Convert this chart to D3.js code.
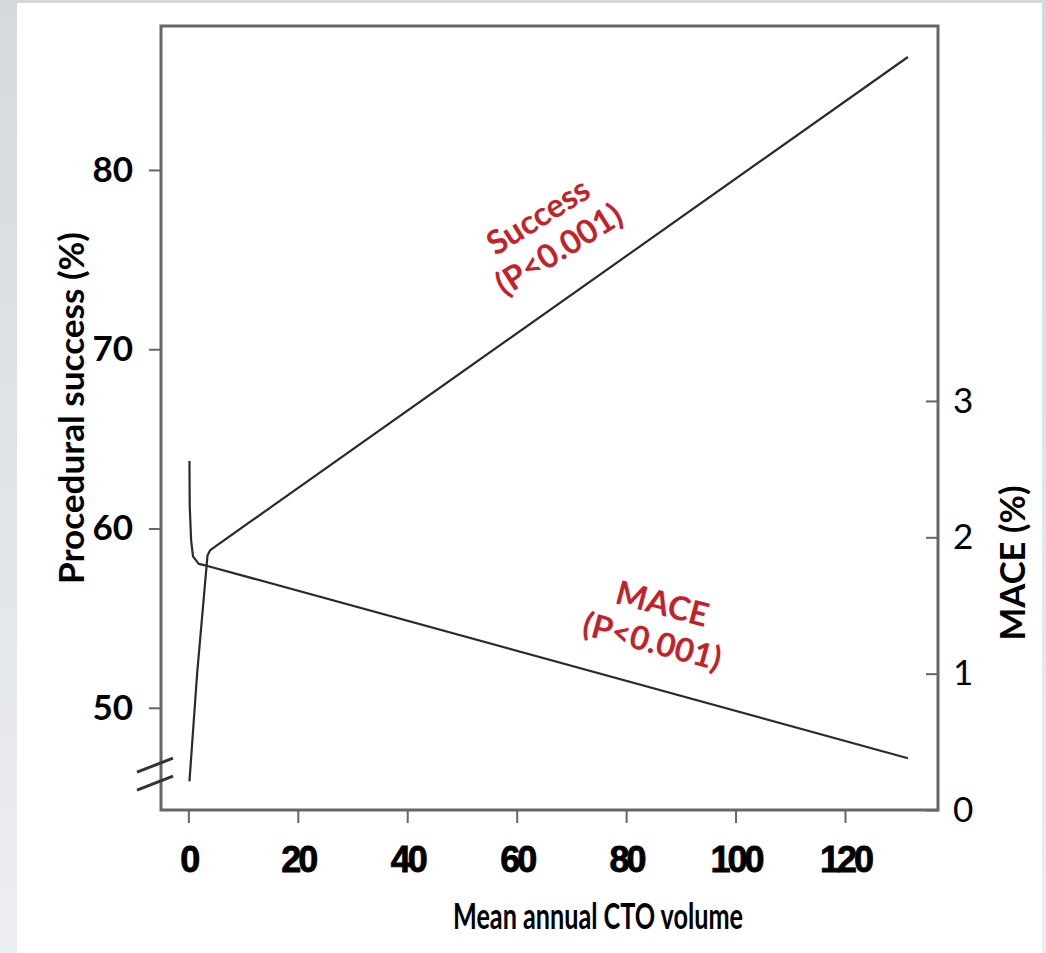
<!DOCTYPE html>
<html>
<head>
<meta charset="utf-8">
<script src="https://cdn.jsdelivr.net/npm/d3@7"></script>
<style>
  body { margin: 0; overflow: hidden; }
  svg { display: block; }
</style>
</head>
<body>
<div id="chart"></div>
<script>
// x axis
const xTicks = [0, 20, 40, 60, 80, 100, 120];
// left axis: procedural success (%)
const leftTicks = [50, 60, 70, 80];
// right axis: MACE (%)
const rightTicks = [0, 1, 2, 3];

// success curve (left axis)
const successX = [0.2, 1.6, 3.5, 4.0, 131.5];
const successY = [45.9, 51.9, 58.5, 58.8, 86.3];

// MACE curve (right axis)
const maceX = [0.2, 0.25, 0.5, 0.85, 1.9, 3.5, 131.5];
const maceY = [2.56, 2.23, 1.98, 1.86, 1.805, 1.79, 0.38];

// axis break sits at these left-axis values
const breakAt = [46.8, 45.8];

const width = 1046, height = 953;
const margin = { top: 26, right: 108, bottom: 143, left: 161 };
const red = '#c4222b';

const svg = d3.select('#chart').append('svg')
  .attr('width', width)
  .attr('height', height);

const defs = svg.append('defs');
const grad = defs.append('linearGradient')
  .attr('id', 'bg').attr('x1', 0).attr('y1', 0).attr('x2', 0).attr('y2', 1);
grad.append('stop').attr('offset', '0%').attr('stop-color', '#d5d9de');
grad.append('stop').attr('offset', '100%').attr('stop-color', '#eceef1');

svg.append('rect').attr('width', width).attr('height', height).attr('fill', 'url(#bg)');
svg.append('rect').attr('x', 17).attr('y', 3).attr('width', 1025).attr('height', 950).attr('fill', '#fff');

const x = d3.scaleLinear().domain([-5, 137]).range([margin.left, width - margin.right]);
const yL = d3.scaleLinear().domain([44.3, 88.03]).range([height - margin.bottom, margin.top]);
const yR = d3.scaleLinear().domain([0, 5.75]).range([height - margin.bottom, margin.top]);

const axisColor = '#666';

// bottom axis
const gx = svg.append('g')
  .attr('transform', 'translate(0,' + (height - margin.bottom) + ')')
  .call(d3.axisBottom(x).tickValues(xTicks).tickSize(13).tickPadding(23));
gx.selectAll('text')
  .attr('font-family', '"Liberation Sans", Arial, sans-serif')
  .attr('font-weight', 'bold')
  .attr('font-size', 36)
  .attr('letter-spacing', '-3px')
  .attr('stroke', '#000')
  .attr('stroke-width', 0.8)
  .attr('fill', '#000');

// left axis
const gl = svg.append('g')
  .attr('transform', 'translate(' + margin.left + ',0)')
  .call(d3.axisLeft(yL).tickValues(leftTicks).tickSize(12).tickPadding(16));
gl.selectAll('text')
  .attr('font-family', 'Lato, sans-serif')
  .attr('font-weight', 'bold')
  .attr('font-size', 35)
  .attr('fill', '#000');

// right axis, ticks point inward
const gr = svg.append('g')
  .attr('transform', 'translate(' + (width - margin.right) + ',0)')
  .call(d3.axisRight(yR).tickValues(rightTicks).tickFormat(d3.format('d')).tickSize(-12).tickPadding(15));
gr.selectAll('text')
  .attr('font-family', 'Lato, sans-serif')
  .attr('font-size', 35)
  .attr('fill', '#000');

[gx, gl, gr].forEach(function(g) {
  g.select('.domain').remove();
  g.selectAll('line').attr('stroke', axisColor).attr('stroke-width', 2);
});

// plot box
svg.append('rect')
  .attr('x', margin.left)
  .attr('y', margin.top)
  .attr('width', width - margin.right - margin.left)
  .attr('height', height - margin.bottom - margin.top)
  .attr('fill', 'none')
  .attr('stroke', axisColor)
  .attr('stroke-width', 3);

// axis break marks
svg.selectAll('.break')
  .data(breakAt)
  .enter()
  .append('line')
  .attr('class', 'break')
  .attr('x1', margin.left - 24)
  .attr('x2', margin.left + 12)
  .attr('y1', function(d) { return yL(d) + 7; })
  .attr('y2', function(d) { return yL(d) - 7; })
  .attr('stroke', '#333')
  .attr('stroke-width', 3);

// curves
const successLine = d3.line()
  .x(function(d) { return x(d[0]); })
  .y(function(d) { return yL(d[1]); });
const maceLine = d3.line()
  .x(function(d) { return x(d[0]); })
  .y(function(d) { return yR(d[1]); });

svg.append('path')
  .datum(d3.zip(successX, successY))
  .attr('d', successLine)
  .attr('fill', 'none')
  .attr('stroke', '#2b2b2b')
  .attr('stroke-width', 2.2)
  .attr('stroke-linejoin', 'round');

svg.append('path')
  .datum(d3.zip(maceX, maceY))
  .attr('d', maceLine)
  .attr('fill', 'none')
  .attr('stroke', '#2b2b2b')
  .attr('stroke-width', 2.2)
  .attr('stroke-linejoin', 'round');

// red annotations
function annotate(px, py, angle, lines) {
  const g = svg.append('g')
    .attr('transform', 'translate(' + px + ',' + py + ') rotate(' + angle + ')');
  g.selectAll('text')
    .data(lines)
    .enter()
    .append('text')
    .attr('y', function(d, i) { return (i - 0.5) * 39; })
    .attr('dy', '0.35em')
    .attr('text-anchor', 'middle')
    .attr('font-family', 'Lato, sans-serif')
    .attr('font-weight', 'bold')
    .attr('font-size', 33)
    .attr('fill', red)
    .text(function(d) { return d; });
}
annotate(x(65.8), yL(76.5), -32, ['Success', '(P<0.001)']);
annotate(x(85.7), yR(1.375), 15, ['MACE', '(P<0.001)']);

// axis titles
svg.append('text')
  .attr('transform', 'translate(72,408) rotate(-90)')
  .attr('text-anchor', 'middle')
  .attr('dy', '0.35em')
  .attr('font-family', 'Lato, sans-serif')
  .attr('font-weight', 'bold')
  .attr('font-size', 35)
  .attr('textLength', 352)
  .attr('lengthAdjust', 'spacingAndGlyphs')
  .text('Procedural success (%)');

svg.append('text')
  .attr('transform', 'translate(1013,563) rotate(-90)')
  .attr('text-anchor', 'middle')
  .attr('dy', '0.35em')
  .attr('font-family', 'Lato, sans-serif')
  .attr('font-weight', 'bold')
  .attr('font-size', 35)
  .attr('textLength', 155)
  .attr('lengthAdjust', 'spacingAndGlyphs')
  .text('MACE (%)');

svg.append('text')
  .attr('x', 598)
  .attr('y', 916)
  .attr('text-anchor', 'middle')
  .attr('dy', '0.35em')
  .attr('font-family', 'Lato, sans-serif')
  .attr('font-weight', 'bold')
  .attr('font-size', 36)
  .attr('textLength', 290)
  .attr('lengthAdjust', 'spacingAndGlyphs')
  .text('Mean annual CTO volume');
</script>
</body>
</html>
